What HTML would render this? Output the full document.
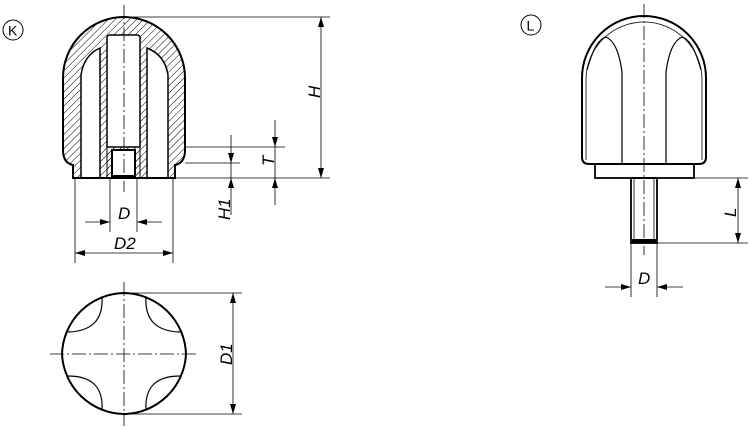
<!DOCTYPE html>
<html><head><style>html,body{margin:0;padding:0;background:#fff}svg{display:block}text{font-family:"Liberation Sans Narrow","Liberation Sans",sans-serif;font-style:italic;font-size:17px;fill:#000}</style></head>
<body>
<svg width="750" height="430" viewBox="0 0 750 430" xmlns="http://www.w3.org/2000/svg">
<defs>
<pattern id="h" patternUnits="userSpaceOnUse" width="5" height="5" patternTransform="rotate(45)"><line x1="0" y1="0" x2="0" y2="5" stroke="#000" stroke-width="1"/></pattern>
<marker id="a" viewBox="0 0 10 6" refX="10" refY="3" markerWidth="10" markerHeight="6" orient="auto-start-reverse" markerUnits="userSpaceOnUse"><path d="M0,0 L10,3 L0,6z" fill="#000"/></marker>
</defs>
<g fill="none" stroke="#000">
<circle cx="13" cy="30" r="10" stroke-width="1"/>
<circle cx="531" cy="25" r="10" stroke-width="1"/>
<!-- section K -->
<path d="M73,178 L73,165 Q63,163 63,150 L63,78 A61,61 0 0 1 185,78 L185,150 Q185,163 175,165 L175,178 Z" fill="url(#h)" stroke-width="2"/>
<path d="M81,178 L81,75 Q84,55 100,48 L100,178 Z" fill="#fff" stroke-width="1.5"/>
<path d="M168,178 L168,75 Q165,55 147,48 L147,178 Z" fill="#fff" stroke-width="1.5"/>
<path d="M107,147 L107,38 Q107,35 110,35 L137,35 Q140,35 140,38 L140,147 Z" fill="#fff" stroke-width="1.5"/>
<rect x="107" y="147" width="33" height="31" fill="url(#h)" stroke-width="1"/>
<rect x="112" y="150" width="23" height="26" fill="#fff" stroke-width="2"/>
<line x1="73" y1="178" x2="175" y2="178" stroke-width="2"/>
<line x1="124" y1="5" x2="124" y2="192" stroke-width="0.8" stroke-dasharray="14,3,2,3"/>
<line x1="124" y1="17" x2="330" y2="17" stroke-width="0.8"/>
<line x1="175" y1="178" x2="330" y2="178" stroke-width="0.8"/>
<line x1="321" y1="17" x2="321" y2="178" stroke-width="0.8" marker-start="url(#a)" marker-end="url(#a)"/>
<line x1="185" y1="147" x2="285" y2="147" stroke-width="0.8"/>
<line x1="275" y1="120" x2="275" y2="147" stroke-width="0.8" marker-end="url(#a)"/>
<line x1="275" y1="205" x2="275" y2="178" stroke-width="0.8" marker-end="url(#a)"/>
<line x1="275" y1="147" x2="275" y2="178" stroke-width="0.8"/>
<line x1="185" y1="163" x2="240" y2="163" stroke-width="0.8"/>
<line x1="231" y1="135" x2="231" y2="163" stroke-width="0.8" marker-end="url(#a)"/>
<line x1="231" y1="215" x2="231" y2="178" stroke-width="0.8" marker-end="url(#a)"/>
<line x1="231" y1="163" x2="231" y2="178" stroke-width="0.8"/>
<line x1="110" y1="178" x2="110" y2="232" stroke-width="0.8"/>
<line x1="137" y1="178" x2="137" y2="232" stroke-width="0.8"/>
<line x1="85" y1="222" x2="110" y2="222" stroke-width="0.8" marker-end="url(#a)"/>
<line x1="162" y1="222" x2="137" y2="222" stroke-width="0.8" marker-end="url(#a)"/>
<line x1="75" y1="178" x2="75" y2="263" stroke-width="0.8"/>
<line x1="173" y1="178" x2="173" y2="263" stroke-width="0.8"/>
<line x1="75" y1="253" x2="173" y2="253" stroke-width="0.8" marker-start="url(#a)" marker-end="url(#a)"/>
<!-- bottom view -->
<path d="M124,293 A63,63 0 0 1 186,354 A63,63 0 0 1 124,414 A63,63 0 0 1 62,354 A63,63 0 0 1 124,293 Z" stroke-width="2"/>
<path d="M102,297 Q104,331 68,332" stroke-width="1.2"/>
<path d="M146,297 Q144,331 180,332" stroke-width="1.2"/>
<path d="M102,410 Q104,376 68,376" stroke-width="1.2"/>
<path d="M146,410 Q144,376 180,376" stroke-width="1.2"/>
<line x1="124" y1="282" x2="124" y2="426" stroke-width="0.8" stroke-dasharray="14,3,2,3"/>
<line x1="50" y1="354" x2="196" y2="354" stroke-width="0.8" stroke-dasharray="14,3,2,3"/>
<line x1="124" y1="293" x2="242" y2="293" stroke-width="0.8"/>
<line x1="124" y1="414" x2="242" y2="414" stroke-width="0.8"/>
<line x1="233" y1="293" x2="233" y2="414" stroke-width="0.8" marker-start="url(#a)" marker-end="url(#a)"/>
<!-- L view -->
<path d="M582,157 L582,78 A62,62 0 0 1 706,78 L706,157 Q706,164 699,164 L589,164 Q582,164 582,157 Z" stroke-width="2"/>
<path d="M586,160 L586,80 A58,58 0 0 1 702,80 L702,160" stroke-width="0.8"/>
<path d="M622,164 L622,72 Q618,42 606,37 Q595,40 587,70" stroke-width="1.2"/>
<path d="M666,164 L666,72 Q670,42 682,37 Q693,40 701,70" stroke-width="1.2"/>
<rect x="595" y="164" width="99" height="14" stroke-width="1.8"/>
<rect x="631" y="178" width="26" height="65" stroke-width="1.8"/>
<line x1="634" y1="178" x2="634" y2="240" stroke-width="0.8"/>
<line x1="654" y1="178" x2="654" y2="240" stroke-width="0.8"/>
<rect x="632" y="239" width="24" height="4" fill="#000" stroke="none"/>
<line x1="644" y1="4" x2="644" y2="255" stroke-width="0.8" stroke-dasharray="14,3,2,3"/>
<line x1="694" y1="178" x2="748" y2="178" stroke-width="0.8"/>
<line x1="657" y1="243" x2="748" y2="243" stroke-width="0.8"/>
<line x1="738" y1="178" x2="738" y2="243" stroke-width="0.8" marker-start="url(#a)" marker-end="url(#a)"/>
<line x1="631" y1="243" x2="631" y2="297" stroke-width="0.8"/>
<line x1="657" y1="243" x2="657" y2="297" stroke-width="0.8"/>
<line x1="605" y1="287" x2="631" y2="287" stroke-width="0.8" marker-end="url(#a)"/>
<line x1="683" y1="287" x2="657" y2="287" stroke-width="0.8" marker-end="url(#a)"/>
</g>
<text x="8" y="35.5" style="font-style:normal;font-size:14px;font-family:'Liberation Sans',sans-serif">K</text>
<text x="526.5" y="30.5" style="font-style:normal;font-size:14px;font-family:'Liberation Sans',sans-serif">L</text>
<text x="118" y="219">D</text>
<text x="114" y="249">D2</text>
<text transform="translate(320,98) rotate(-90)">H</text>
<text transform="translate(274,166) rotate(-90)">T</text>
<text transform="translate(230,220) rotate(-90)">H1</text>
<text transform="translate(232,365) rotate(-90)">D1</text>
<text transform="translate(736,217) rotate(-90)">L</text>
<text x="638" y="284">D</text>
</svg>
</body></html>
